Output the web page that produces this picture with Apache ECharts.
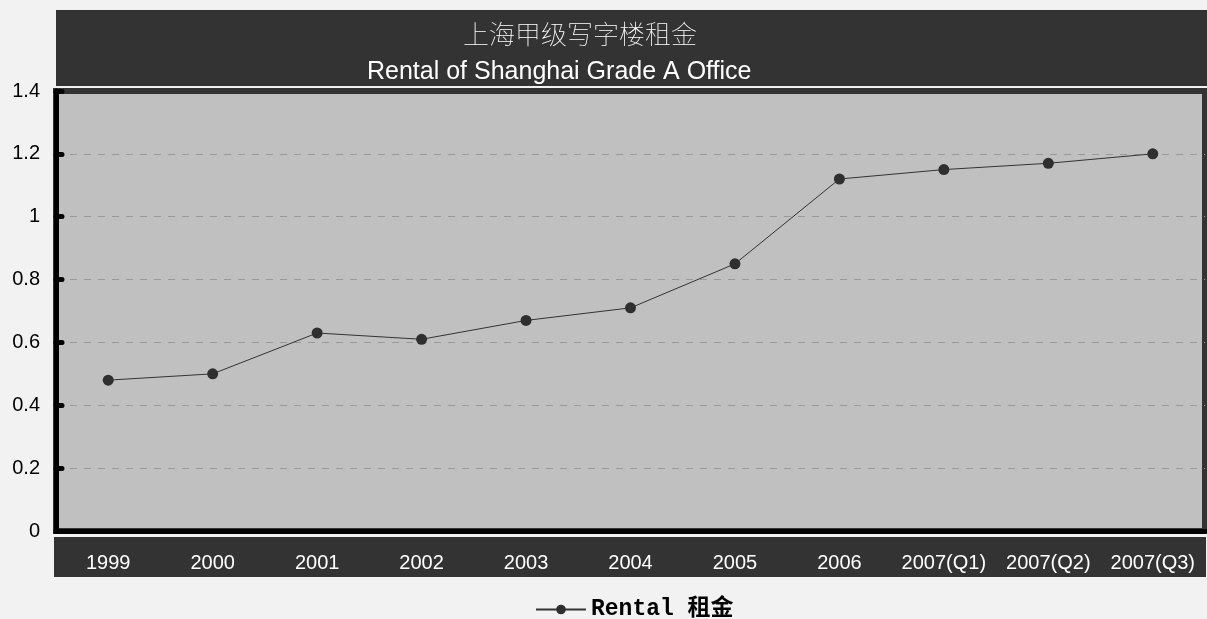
<!DOCTYPE html>
<html>
<head>
<meta charset="utf-8">
<script src="https://cdn.jsdelivr.net/npm/echarts@6/dist/echarts.min.js"></script>
<style>
  html, body { margin: 0; padding: 0; background: #f2f2f2; }
  #chart { width: 1207px; height: 619px; }
</style>
</head>
<body>
<div id="chart"></div>
<script>
// data
const categories = ['1999', '2000', '2001', '2002', '2003', '2004', '2005', '2006', '2007(Q1)', '2007(Q2)', '2007(Q3)'];
const rental = [0.48, 0.50, 0.63, 0.61, 0.67, 0.71, 0.85, 1.12, 1.15, 1.17, 1.20];
const seriesName = 'Rental 租金';
const titleCn = '上海甲级写字楼租金';
const titleEn = 'Rental of Shanghai Grade A Office';

const chart = echarts.init(document.getElementById('chart'));

const sans = 'Liberation Sans, Arial, sans-serif';

chart.setOption({
  backgroundColor: '#f2f2f2',
  animation: false,
  // dark bands behind title and x labels
  graphic: [
    { type: 'rect', z: -10, shape: { x: 56, y: 10, width: 1151, height: 76 }, style: { fill: '#333333' } },
    { type: 'rect', z: -10, shape: { x: 54, y: 537, width: 1152, height: 40 }, style: { fill: '#333333' } }
  ],
  title: [
    {
      text: titleCn, left: 458, top: 16,
      textStyle: { color: '#ffffff', fontSize: 26, fontWeight: 'lighter', fontFamily: 'Noto Sans CJK SC' }
    },
    {
      text: titleEn, left: 362, top: 55,
      textStyle: { color: '#ffffff', fontSize: 25, fontWeight: 'normal', fontFamily: sans }
    }
  ],
  legend: {
    left: 530, top: 593,
    itemWidth: 50, itemHeight: 12, itemGap: 8,
    textStyle: { color: '#000', fontSize: 23, fontWeight: 'bold', fontFamily: 'Liberation Mono, Noto Sans CJK SC, monospace' },
    data: [seriesName]
  },
  grid: {
    left: 56, right: 2, top: 91, bottom: 88,
    show: true,
    backgroundColor: '#c0c0c0',
    borderColor: '#333333',
    borderWidth: 6
  },
  xAxis: {
    type: 'category',
    data: categories,
    boundaryGap: true,
    axisLine: { lineStyle: { color: '#000', width: 5, cap: 'round' } },
    axisTick: { inside: true, length: 5, lineStyle: { color: '#000', width: 5, cap: 'round' } },
    axisLabel: { color: '#ffffff', fontSize: 20, fontFamily: sans, margin: 22, interval: 0 },
    splitLine: { show: false }
  },
  yAxis: {
    type: 'value',
    min: 0, max: 1.4, interval: 0.2,
    axisLine: { show: true, lineStyle: { color: '#000', width: 5, cap: 'round' } },
    axisTick: { show: true, inside: true, length: 6, lineStyle: { color: '#000', width: 5, cap: 'round' } },
    axisLabel: {
      color: '#000', fontSize: 20, fontFamily: sans, margin: 16,
      formatter: v => String(Math.round(v * 10) / 10)
    },
    splitLine: { show: true, showMaxLine: false, lineStyle: { color: '#999999', width: 1, type: [7, 7] } }
  },
  series: [{
    name: seriesName,
    type: 'line',
    data: rental,
    symbol: 'circle',
    symbolSize: 11,
    itemStyle: { color: '#2f2f2f' },
    lineStyle: { color: '#333333', width: 1 }
  }]
});
</script>
</body>
</html>
